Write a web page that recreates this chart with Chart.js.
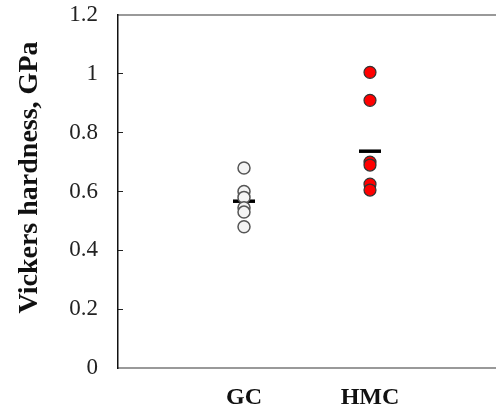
<!DOCTYPE html>
<html>
<head>
<meta charset="utf-8">
<script src="https://cdn.jsdelivr.net/npm/chart.js@4"></script>
<style>
  html, body { margin: 0; padding: 0; background: #fff; }
  #wrap { width: 496px; height: 409px; }
</style>
</head>
<body>
<div id="wrap"><canvas id="hardness" width="496" height="409"></canvas></div>
<script>
const categories = ['GC', 'HMC']
const gcValues = [0.68, 0.60, 0.58, 0.545, 0.53, 0.48]
const hmcValues = [1.005, 0.91, 0.70, 0.69, 0.625, 0.605]
const means = [0.567, 0.737]
const yTicks = [0, 0.2, 0.4, 0.6, 0.8, 1, 1.2]

const serif = "'Liberation Serif', 'Times New Roman', serif"

function pts(vals, i) {
    return vals.map(v => ({ x: i + 1, y: v }))
}

// no extra side padding from the labels, chart area is pinned by afterFit
function noPad(s) {
    s.paddingLeft = 0; s.paddingRight = 0; s.paddingTop = 0; s.paddingBottom = 0
}

const mychart = new Chart(document.getElementById('hardness'), {
    type: 'scatter',
    data: {
        datasets: [{
            data: pts(gcValues, 0),
            backgroundColor: '#f4f4f4',
            borderColor: '#555',
            borderWidth: 1.5,
            pointRadius: 6
        }, {
            data: pts(hmcValues, 1),
            backgroundColor: '#ff0000',
            borderColor: '#333',
            borderWidth: 1.2,
            pointRadius: 6
        }, {
            data: means.map((m, i) => ({ x: i + 1, y: m })),
            pointStyle: 'line',
            pointRadius: 11,
            borderColor: '#000',
            borderWidth: 3.5
        }]
    },
    options: {
        responsive: false,
        animation: false,
        events: [],
        layout: { autoPadding: false, padding: { top: 15, right: 0, left: 0, bottom: 0 } },
        plugins: { legend: { display: false }, tooltip: { enabled: false } },
        scales: {
            x: {
                type: 'linear',
                min: 0,
                max: 3,
                afterBuildTicks: s => { s.ticks = categories.map((c, i) => ({ value: i + 1 })) },
                afterFit: s => { s.height = 41; noPad(s) },
                grid: { display: false },
                border: { color: '#999', width: 2 },
                ticks: {
                    callback: v => categories[v - 1],
                    color: '#111',
                    padding: 7,
                    maxRotation: 0,
                    font: { family: serif, size: 24, weight: 'bold' }
                }
            },
            top: {
                type: 'linear',
                position: 'top',
                min: 0,
                max: 3,
                grid: { display: false },
                ticks: { display: false },
                afterFit: s => { s.height = 0; noPad(s) },
                border: { color: '#999', width: 2 }
            },
            y: {
                min: 0,
                max: 1.2,
                afterBuildTicks: s => { s.ticks = yTicks.map(v => ({ value: v })) },
                afterFit: s => { s.width = 118; noPad(s) },
                grid: { drawOnChartArea: false, tickLength: -5, color: '#222', lineWidth: 1 },
                border: { color: '#111', width: 1.5 },
                ticks: {
                    callback: v => String(v),
                    color: '#222',
                    padding: 25,
                    font: { family: serif, size: 23 }
                },
                title: {
                    display: true,
                    // leading spaces nudge the centred title up a little, as in the original
                    text: '\u00a0\u00a0\u00a0\u00a0Vickers hardness, GPa',
                    color: '#111',
                    font: { family: serif, size: 28, weight: 'bold' },
                    padding: { top: 13, bottom: 0 }
                }
            }
        }
    }
})
</script>
</body>
</html>
